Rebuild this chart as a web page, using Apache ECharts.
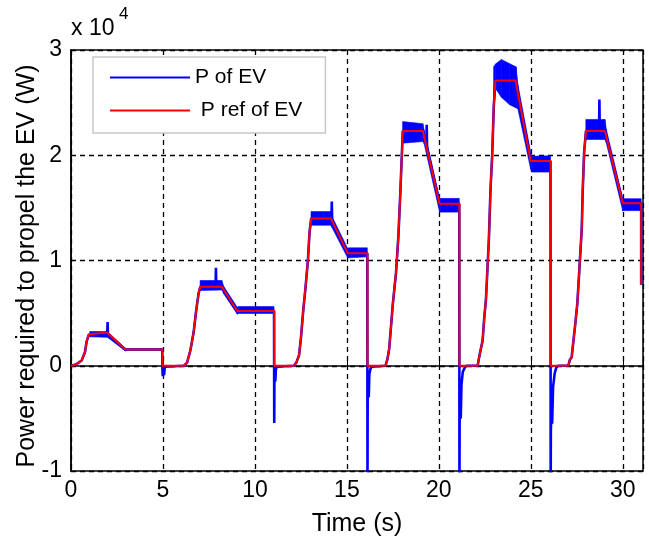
<!DOCTYPE html>
<html>
<head>
<meta charset="utf-8">
<script src="https://cdn.jsdelivr.net/npm/echarts@6/dist/echarts.min.js"></script>
<style>
html,body{margin:0;padding:0;background:#fff;}
#chart{width:649px;height:542px;}
</style>
</head>
<body>
<div id="chart"></div>
<script>
// ---- data (time in s, power in W) ----
const xTickLabels = ['0', '5', '10', '15', '20', '25', '30'];
const yTickLabels = ['-1', '0', '1', '2', '3'];

// reference power (P ref of EV)
const refTime = [
  0, 0.3, 0.58, 0.76, 0.85, 0.96, 1.04, 1.97, 2.95, 4.97, 4.97,
  6.14, 6.31, 6.49, 6.67, 6.81, 6.94, 7.03, 8.2, 9.04, 11.05, 11.05,
  12.12, 12.25, 12.4, 12.5, 12.63, 12.75, 12.88, 12.97, 13.06, 14.13, 15.04, 16.12, 16.12,
  17.1, 17.2, 17.3, 17.5, 17.67, 17.8, 17.9, 18.04, 19.13, 20.04, 21.12, 21.12,
  22.11, 22.2, 22.38, 22.47, 22.56, 22.72, 22.81, 22.9, 22.99, 23.08, 24.17, 24.99, 26.08, 26.08,
  27.04, 27.13, 27.22, 27.4, 27.53, 27.77, 27.82, 27.9, 28.0, 29.03, 30.0, 31.0, 31.0
];
const refPower = [
  0, 150, 500, 1300, 2300, 3000, 3150, 3150, 1550, 1550, 0,
  0, 300, 1450, 3200, 5300, 6900, 7500, 7500, 5200, 5200, 0,
  0, 300, 1000, 2600, 5300, 7400, 10000, 12700, 14000, 14000, 10700, 10700, 0,
  0, 600, 1600, 5900, 8800, 12300, 16200, 22300, 22300, 15400, 15400, 0,
  0, 900, 2400, 4600, 6250, 12000, 16800, 20000, 24800, 27100, 27100, 19450, 19450, 0,
  0, 600, 800, 3700, 5900, 13000, 16500, 20300, 22300, 22300, 15450, 15450, 7700
];

// measured power (P of EV) - centre path with spikes
const evTime = [
  0, 0.3, 0.58, 0.76, 0.85, 0.96, 1.04, 1.97, 1.99, 2.01, 2.95, 4.96, 4.97, 4.99, 5.02, 5.06, 5.1, 5.15,
  6.14, 6.31, 6.49, 6.67, 6.81, 6.94, 7.03, 7.86, 7.88, 7.9, 8.2, 9.04, 11.04, 11.05, 11.06, 11.09, 11.11, 11.14, 11.2, 11.3,
  12.12, 12.25, 12.4, 12.5, 12.63, 12.75, 12.88, 12.97, 13.06, 14.16, 14.18, 14.2, 15.04, 16.11, 16.12, 16.13, 16.16, 16.19, 16.22, 16.28, 16.35, 16.45,
  17.1, 17.2, 17.3, 17.5, 17.67, 17.8, 17.9, 18.04, 19.13, 19.32, 19.34, 19.36, 20.04, 21.11, 21.12, 21.13, 21.16, 21.19, 21.23, 21.3, 21.4, 21.5,
  22.11, 22.2, 22.38, 22.47, 22.56, 22.72, 22.81, 22.9, 22.99, 23.08, 24.17, 24.99, 26.07, 26.08, 26.09, 26.13, 26.16, 26.21, 26.3, 26.38, 26.48,
  27.04, 27.13, 27.22, 27.4, 27.53, 27.77, 27.82, 27.9, 28.0, 28.71, 28.73, 28.75, 29.03, 30.0, 31.0, 31.0
];
const evPower = [
  0, 150, 500, 1300, 2300, 2900, 3050, 3050, 4150, 3000, 1550, 1550, -300, -1000, -400, -900, -100, 0,
  0, 300, 1450, 3200, 5300, 6900, 7500, 7500, 9300, 7500, 7500, 5200, 5200, -5450, -1600, -600, -1500, -300, -100, 0,
  0, 300, 1000, 2600, 5300, 7400, 10000, 12700, 14000, 14000, 15600, 13800, 10700, 10700, -12000, -3300, -1500, -3000, -800, -300, -100, 0,
  0, 600, 1600, 5900, 8800, 12300, 16200, 22300, 22300, 20900, 22900, 20700, 15400, 15400, -12000, -5300, -2500, -5000, -1800, -600, -200, 0,
  0, 900, 2400, 4600, 6250, 12000, 16800, 20000, 24800, 27100, 27100, 19450, 19450, -12000, -6200, -3000, -5500, -2000, -700, -200, 0,
  0, 600, 800, 3700, 5900, 13000, 16500, 20300, 22300, 22300, 25300, 22300, 22300, 15450, 15450, 7700
];

// oscillation envelope of P of EV (low / high) per cycle
const bandCycle = [1,1,1,1,1,1, 2,2,2,2,2,2, 3,3,3,3,3,3, 4,4,4,4,4,4, 5,5,5,5,5,5,5,5,5, 6,6,6,6,6,6];
const bandTime = [
  1.02, 1.97, 2.1, 2.95, 3.05, 4.96,
  7.02, 8.2, 8.3, 9.04, 9.1, 11.04,
  13.05, 14.13, 14.2, 15.04, 15.1, 16.11,
  18.03, 19.13, 19.2, 20.04, 20.1, 21.11,
  22.98, 23.1, 23.4, 23.85, 24.2, 24.3, 24.99, 25.05, 26.07,
  27.99, 29.03, 29.1, 30.0, 30.05, 31.0
];
const bandLow = [
  2750, 2700, 2550, 1400, 1480, 1480,
  7150, 7200, 6850, 4900, 4970, 4970,
  13350, 13350, 13100, 10250, 10250, 10350,
  21150, 21300, 21100, 14600, 14600, 14600,
  24500, 26300, 25500, 24800, 24500, 24400, 18700, 18400, 18400,
  21500, 21500, 21200, 14700, 14740, 14740
];
const bandHigh = [
  3250, 3250, 3050, 1680, 1620, 1620,
  8100, 8100, 7550, 5550, 5620, 5620,
  14650, 14650, 14150, 11150, 11200, 11200,
  23200, 23000, 22400, 15900, 15900, 15900,
  28400, 28700, 29100, 28700, 28400, 26700, 20300, 19900, 19950,
  23400, 23400, 22500, 15900, 15870, 15870
];

// ---- build series data ----
const refData = refTime.map((t, i) => [t, refPower[i]]);
const evData = evTime.map((t, i) => [t, evPower[i]]);
const bandData = bandTime.map((t, i) => [t, bandLow[i], bandHigh[i], bandCycle[i]]);

const FONT = "'Liberation Sans', Arial, sans-serif";
const chart = echarts.init(document.getElementById('chart'), null, {renderer: 'canvas'});

chart.setOption({
  animation: false,
  backgroundColor: '#ffffff',
  grid: {left: 71, right: 6, top: 50, bottom: 70, show: true, borderColor: '#000', borderWidth: 1.5, backgroundColor: 'transparent'},
  legend: {
    data: ['P of EV', 'P ref of EV'],
    orient: 'vertical',
    left: 93, top: 57,
    itemWidth: 80, itemHeight: 21, itemGap: 12,
    padding: [10, 23, 12, 16],
    backgroundColor: '#fff',
    borderColor: '#c8c8c8', borderWidth: 1.5, borderRadius: 0,
    itemStyle: {opacity: 0},
    formatter: n => n === 'P ref of EV' ? ' P ref of EV' : n,
    textStyle: {fontFamily: FONT, fontSize: 21, color: '#000'}
  },
  xAxis: {
    type: 'value', min: 0, max: 31.1, interval: 5,
    name: 'Time (s)', nameLocation: 'middle', nameGap: 41,
    nameTextStyle: {fontFamily: FONT, fontSize: 25, color: '#000'},
    axisLine: {show: true, lineStyle: {color: '#000', width: 1.5}},
    axisTick: {show: true, inside: true, length: 5, lineStyle: {color: '#000'}},
    axisLabel: {
      margin: 8, fontFamily: FONT, fontSize: 23, color: '#000',
      formatter: v => { const k = Math.round(v / 5); return Math.abs(v - k * 5) < 1e-6 ? xTickLabels[k] : ''; }
    },
    splitLine: {show: true, lineStyle: {color: '#000', type: [5, 4], width: 1.3}}
  },
  yAxis: {
    type: 'value', min: -10000, max: 30000, interval: 10000,
    axisLine: {show: true, lineStyle: {color: '#000', width: 1.5}},
    axisTick: {show: true, inside: true, length: 5, lineStyle: {color: '#000'}},
    axisLabel: {
      margin: 9, fontFamily: FONT, fontSize: 23, color: '#000',
      formatter: v => yTickLabels[Math.round(v / 10000) + 1]
    },
    splitLine: {show: true, lineStyle: {color: '#000', type: [5, 4], width: 1.3}}
  },
  graphic: [
    {type: 'text', left: 71, top: 17, style: {text: 'x 10', font: "23px 'Liberation Sans', Arial", fill: '#000'}},
    {type: 'text', left: 119, top: 6, style: {text: '4', font: "17px 'Liberation Sans', Arial", fill: '#000'}},
    {type: 'text', x: 27, y: 266, rotation: Math.PI / 2,
     style: {text: 'Power required to propel the EV (W)', font: "25px 'Liberation Sans', Arial", fill: '#000', align: 'center', verticalAlign: 'middle'}}
  ],
  series: [
    {
      name: 'P of EV band', type: 'custom', clip: true, z: 2,
      data: bandData,
      encode: {x: 0, y: [1, 2]},
      renderItem: function (params, api) {
        const i = params.dataIndex;
        const cur = bandData[i], nxt = bandData[i + 1];
        if (!nxt || nxt[3] !== cur[3]) return null;
        const pts = [
          api.coord([cur[0], cur[1]]), api.coord([cur[0], cur[2]]),
          api.coord([nxt[0], nxt[2]]), api.coord([nxt[0], nxt[1]])
        ];
        return {type: 'polygon', shape: {points: pts}, style: {fill: '#0000ff', stroke: '#0000ff', lineWidth: 0.6}};
      }
    },
    {
      name: 'P of EV', type: 'line', data: evData, symbol: 'none', z: 3,
      lineStyle: {color: '#0000ff', width: 2.6}, itemStyle: {color: '#0000ff'}
    },
    {
      name: 'P ref of EV', type: 'line', data: refData, symbol: 'none', z: 4,
      lineStyle: {color: '#ff0000', width: 2}, itemStyle: {color: '#ff0000'}
    }
  ]
});
</script>
</body>
</html>
